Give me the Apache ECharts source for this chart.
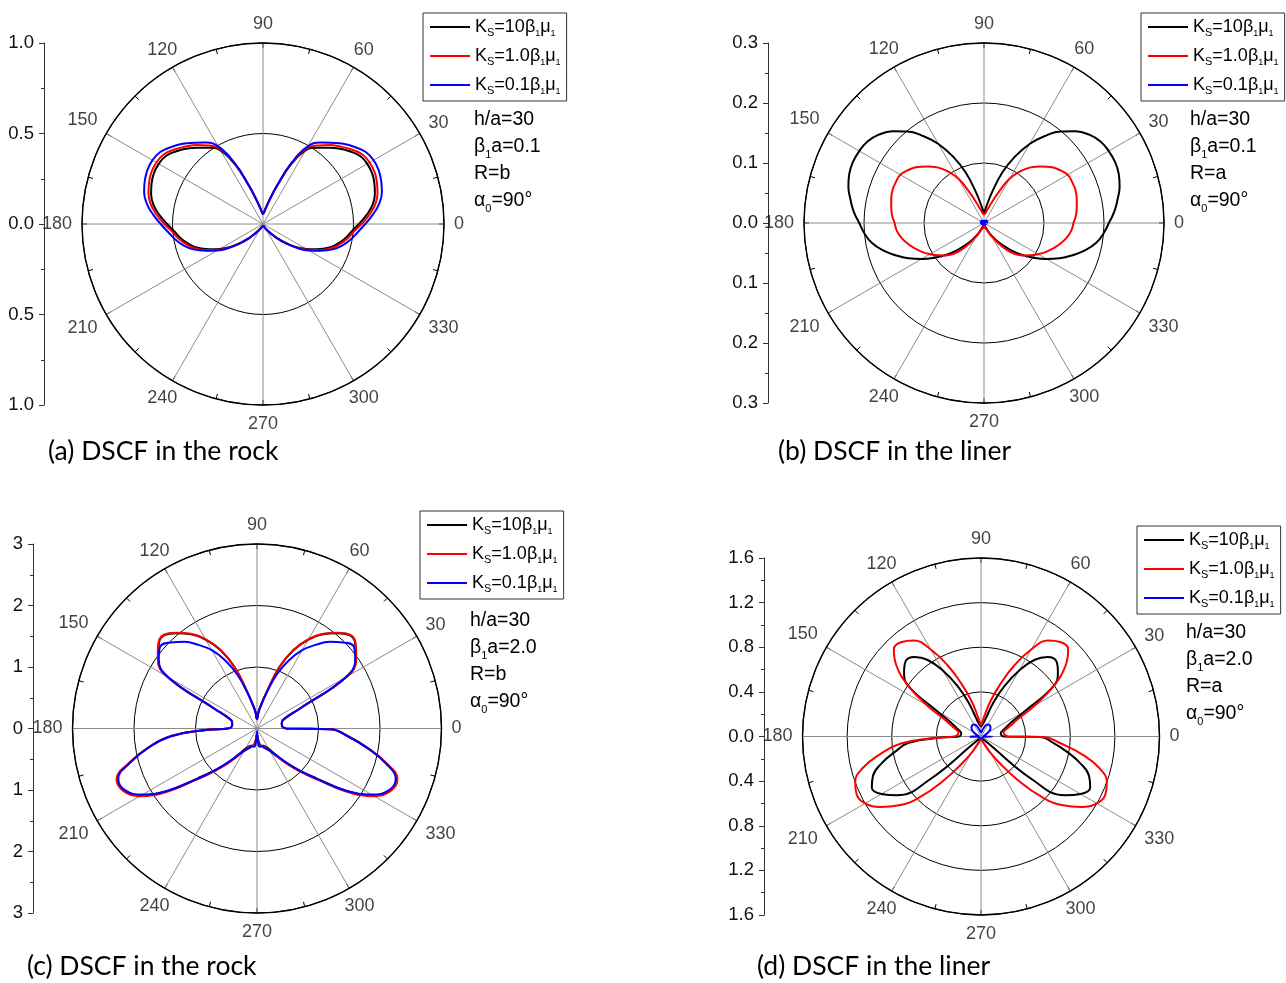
<!DOCTYPE html>
<html>
<head>
<meta charset="utf-8">
<title>DSCF polar plots</title>
<script src="https://cdn.jsdelivr.net/npm/echarts@6/dist/echarts.min.js"></script>
<style>
  html, body { margin: 0; padding: 0; background: #fff; }
  #chart { width: 1286px; height: 983px; }
</style>
</head>
<body>
<div id="chart"></div>
<script>
// ---- sampling angles (degrees) ----
const anglesUniform = [
  0, 5, 10, 15, 20, 25, 30, 35, 40, 45, 50, 55, 60, 65, 70, 75, 80, 85, 90,
  95, 100, 105, 110, 115, 120, 125, 130, 135, 140, 145, 150, 155, 160, 165, 170, 175, 180,
  185, 190, 195, 200, 205, 210, 215, 220, 225, 230, 235, 240, 245, 250, 255, 260, 265, 270,
  275, 280, 285, 290, 295, 300, 305, 310, 315, 320, 325, 330, 335, 340, 345, 350, 355, 360
];
// the beta1*a = 2.0 curves jump radially along the 0/180 degree line
const anglesSplit = [
  0, 5, 10, 15, 20, 25, 30, 35, 40, 45, 50, 55, 60, 65, 70, 75, 80, 85, 90,
  95, 100, 105, 110, 115, 120, 125, 130, 135, 140, 145, 150, 155, 160, 165, 170, 175, 180,
  181.5, 185, 190, 195, 200, 205, 210, 215, 220, 225, 230, 235, 240, 245, 250, 255, 260, 265, 270,
  275, 280, 285, 290, 295, 300, 305, 310, 315, 320, 325, 330, 335, 340, 345, 350, 355, 359.5, 360
];

// ---- (a) DSCF in the rock, beta1*a = 0.1, R = b ----
const rockA_K10 = [
  0.53, 0.575, 0.615, 0.64, 0.655, 0.665, 0.665, 0.655, 0.625, 0.59,
  0.55, 0.515, 0.47, 0.36, 0.22, 0.135, 0.09, 0.065, 0.055, 0.065,
  0.09, 0.135, 0.22, 0.36, 0.47, 0.515, 0.55, 0.59, 0.625, 0.655,
  0.665, 0.665, 0.655, 0.64, 0.615, 0.575, 0.53, 0.49, 0.46, 0.425,
  0.385, 0.33, 0.275, 0.22, 0.16, 0.11, 0.07, 0.045, 0.03, 0.02,
  0.015, 0.012, 0.012, 0.013, 0.015, 0.013, 0.012, 0.012, 0.015, 0.02,
  0.03, 0.045, 0.07, 0.11, 0.16, 0.22, 0.275, 0.33, 0.385, 0.425,
  0.46, 0.49, 0.53
];
const rockA_K1 = [
  0.545, 0.59, 0.63, 0.655, 0.67, 0.68, 0.68, 0.67, 0.64, 0.605,
  0.57, 0.53, 0.48, 0.365, 0.22, 0.135, 0.09, 0.065, 0.055, 0.065,
  0.09, 0.135, 0.22, 0.365, 0.48, 0.53, 0.57, 0.605, 0.64, 0.67,
  0.68, 0.68, 0.67, 0.655, 0.63, 0.59, 0.545, 0.502, 0.472, 0.437,
  0.397, 0.342, 0.285, 0.225, 0.165, 0.11, 0.07, 0.045, 0.03, 0.02,
  0.015, 0.012, 0.012, 0.013, 0.015, 0.013, 0.012, 0.012, 0.015, 0.02,
  0.03, 0.045, 0.07, 0.11, 0.165, 0.225, 0.285, 0.342, 0.397, 0.437,
  0.472, 0.502, 0.545
];
const rockA_K01 = [
  0.565, 0.61, 0.652, 0.68, 0.695, 0.705, 0.705, 0.693, 0.662, 0.627,
  0.586, 0.55, 0.495, 0.372, 0.225, 0.135, 0.09, 0.065, 0.055, 0.065,
  0.09, 0.135, 0.225, 0.372, 0.495, 0.55, 0.586, 0.627, 0.662, 0.693,
  0.705, 0.705, 0.695, 0.68, 0.652, 0.61, 0.565, 0.525, 0.492, 0.455,
  0.41, 0.35, 0.293, 0.232, 0.168, 0.114, 0.07, 0.045, 0.03, 0.02,
  0.015, 0.012, 0.012, 0.013, 0.015, 0.013, 0.012, 0.012, 0.015, 0.02,
  0.03, 0.045, 0.07, 0.114, 0.168, 0.232, 0.293, 0.35, 0.41, 0.455,
  0.492, 0.525, 0.565
];

// ---- (b) DSCF in the liner, beta1*a = 0.1, R = a ----
const linerB_K10 = [
  0.208, 0.218, 0.226, 0.234, 0.239, 0.241, 0.240, 0.237, 0.229, 0.216,
  0.199, 0.177, 0.152, 0.122, 0.09, 0.055, 0.033, 0.022, 0.017, 0.022,
  0.033, 0.055, 0.09, 0.122, 0.152, 0.177, 0.199, 0.216, 0.229, 0.237,
  0.240, 0.241, 0.239, 0.234, 0.226, 0.218, 0.208, 0.2, 0.19, 0.175,
  0.157, 0.139, 0.12, 0.101, 0.083, 0.065, 0.048, 0.034, 0.023, 0.013,
  0.007, 0.005, 0.006, 0.007, 0.008, 0.007, 0.006, 0.005, 0.007, 0.013,
  0.023, 0.034, 0.048, 0.065, 0.083, 0.101, 0.12, 0.139, 0.157, 0.175,
  0.19, 0.2, 0.208
];
const linerB_K1 = [
  0.149, 0.154, 0.157, 0.16, 0.162, 0.162, 0.161, 0.154, 0.145, 0.133,
  0.121, 0.105, 0.085, 0.055, 0.035, 0.024, 0.018, 0.015, 0.014, 0.015,
  0.018, 0.024, 0.035, 0.055, 0.085, 0.105, 0.121, 0.133, 0.145, 0.154,
  0.161, 0.162, 0.162, 0.16, 0.157, 0.154, 0.149, 0.146, 0.14, 0.132,
  0.123, 0.114, 0.104, 0.094, 0.084, 0.073, 0.058, 0.04, 0.026, 0.016,
  0.01, 0.007, 0.006, 0.006, 0.006, 0.006, 0.006, 0.007, 0.01, 0.016,
  0.026, 0.04, 0.058, 0.073, 0.084, 0.094, 0.104, 0.114, 0.123, 0.132,
  0.14, 0.146, 0.149
];
const linerB_K01 = [
  0.004, 0.0042, 0.0045, 0.0048, 0.005, 0.005, 0.005, 0.0048, 0.0045, 0.0042,
  0.004, 0.0035, 0.003, 0.002, 0.0015, 0.001, 0.001, 0.001, 0.001, 0.001,
  0.001, 0.001, 0.0015, 0.002, 0.003, 0.0035, 0.004, 0.0042, 0.0045, 0.0048,
  0.005, 0.005, 0.005, 0.0048, 0.0045, 0.0042, 0.004, 0.0038, 0.0036, 0.0034,
  0.0032, 0.003, 0.0028, 0.0025, 0.0022, 0.002, 0.0016, 0.0012, 0.001, 0.0008,
  0.0006, 0.0005, 0.0005, 0.0005, 0.0005, 0.0005, 0.0005, 0.0005, 0.0006, 0.0008,
  0.001, 0.0012, 0.0016, 0.002, 0.0022, 0.0025, 0.0028, 0.003, 0.0032, 0.0034,
  0.0036, 0.0038, 0.004
];

// ---- (c) DSCF in the rock, beta1*a = 2.0, R = b ----
const rockC_K10 = [
  0.47, 0.41, 0.41, 0.42, 0.49, 0.78, 1.69, 1.96, 2.09, 2.14,
  2.02, 1.87, 1.67, 1.41, 1.06, 0.62, 0.4, 0.27, 0.15,
  0.27, 0.4, 0.62, 1.06, 1.41, 1.67, 1.87, 2.02, 2.14,
  2.09, 1.96, 1.69, 0.78, 0.49, 0.42, 0.41, 0.41, 0.47,
  0.8,
  1.4, 1.8, 2.14, 2.42, 2.38, 2.17, 1.76, 1.26, 0.95,
  0.7, 0.5, 0.38, 0.33, 0.3, 0.29, 0.26, 0.16, 0.1,
  0.16, 0.26, 0.29, 0.3, 0.33, 0.38, 0.5, 0.7, 0.95,
  1.26, 1.76, 2.17, 2.38, 2.42, 2.17, 1.82, 1.49,
  1.19, 0.47
];
const rockC_K1 = [
  0.47, 0.41, 0.41, 0.42, 0.49, 0.78, 1.69, 1.97, 2.1, 2.15,
  2.03, 1.88, 1.68, 1.42, 1.07, 0.62, 0.4, 0.27, 0.15,
  0.27, 0.4, 0.62, 1.07, 1.42, 1.68, 1.88, 2.03, 2.15,
  2.1, 1.97, 1.69, 0.78, 0.49, 0.42, 0.41, 0.41, 0.47,
  0.8,
  1.4, 1.8, 2.15, 2.43, 2.4, 2.2, 1.8, 1.3, 0.99,
  0.74, 0.55, 0.42, 0.36, 0.31, 0.3, 0.28, 0.18, 0.1,
  0.18, 0.28, 0.3, 0.31, 0.36, 0.42, 0.55, 0.74, 0.99,
  1.3, 1.8, 2.2, 2.4, 2.43, 2.18, 1.83, 1.5,
  1.19, 0.47
];
const rockC_K01 = [
  0.47, 0.41, 0.41, 0.42, 0.48, 0.77, 1.66, 1.95, 2.06, 1.98,
  1.84, 1.66, 1.47, 1.22, 0.93, 0.6, 0.38, 0.25, 0.15,
  0.25, 0.38, 0.6, 0.93, 1.22, 1.47, 1.66, 1.84, 1.98,
  2.06, 1.95, 1.66, 0.77, 0.48, 0.42, 0.41, 0.41, 0.47,
  0.8,
  1.39, 1.79, 2.13, 2.4, 2.37, 2.15, 1.76, 1.28, 0.95,
  0.7, 0.52, 0.42, 0.37, 0.33, 0.3, 0.3, 0.26, 0.05,
  0.26, 0.3, 0.3, 0.33, 0.37, 0.42, 0.52, 0.7, 0.95,
  1.28, 1.76, 2.15, 2.37, 2.4, 2.16, 1.82, 1.49,
  1.19, 0.47
];

// ---- (d) DSCF in the liner, beta1*a = 2.0, R = a ----
const linerD_K10 = [
  0.2, 0.18, 0.18, 0.2, 0.24, 0.3, 0.45, 0.8, 0.9, 0.955,
  0.93, 0.84, 0.68, 0.5, 0.32, 0.17, 0.12, 0.1, 0.09,
  0.1, 0.12, 0.17, 0.32, 0.5, 0.68, 0.84, 0.93, 0.955,
  0.9, 0.8, 0.45, 0.3, 0.24, 0.2, 0.18, 0.18, 0.2,
  0.36,
  0.65, 0.78, 0.92, 1.03, 1.08, 1.03, 0.92, 0.6, 0.06,
  0.04, 0.03, 0.03, 0.02, 0.02, 0.02, 0.02, 0.02, 0.02,
  0.02, 0.02, 0.02, 0.02, 0.02, 0.03, 0.03, 0.04, 0.06,
  0.6, 0.92, 1.03, 1.08, 1.03, 0.92, 0.78, 0.65,
  0.53, 0.2
];
const linerD_K1 = [
  0.24, 0.21, 0.205, 0.225, 0.28, 0.36, 0.56, 0.8, 0.99, 1.105,
  1.105, 1.05, 0.9, 0.7, 0.49, 0.33, 0.2, 0.13, 0.1,
  0.13, 0.2, 0.33, 0.49, 0.7, 0.9, 1.05, 1.105, 1.105,
  0.99, 0.8, 0.56, 0.36, 0.28, 0.225, 0.205, 0.21, 0.24,
  0.4,
  0.72, 0.92, 1.1, 1.2, 1.23, 1.2, 1.1, 0.96, 0.76,
  0.5, 0.29, 0.17, 0.09, 0.06, 0.04, 0.03, 0.02, 0.02,
  0.02, 0.03, 0.04, 0.06, 0.09, 0.17, 0.29, 0.5, 0.76,
  0.96, 1.1, 1.2, 1.23, 1.2, 1.1, 0.92, 0.72,
  0.56, 0.24
];
const linerD_K01 = [
  0.03, 0.025, 0.025, 0.03, 0.04, 0.055, 0.075, 0.095, 0.11, 0.12,
  0.125, 0.128, 0.125, 0.115, 0.095, 0.07, 0.05, 0.04, 0.035,
  0.04, 0.05, 0.07, 0.095, 0.115, 0.125, 0.128, 0.125, 0.12,
  0.11, 0.095, 0.075, 0.055, 0.04, 0.03, 0.025, 0.025, 0.03,
  0.1,
  0.03, 0.02, 0.02, 0.02, 0.02, 0.02, 0.02, 0.02, 0.02,
  0.02, 0.02, 0.02, 0.02, 0.02, 0.02, 0.02, 0.02, 0.02,
  0.02, 0.02, 0.02, 0.02, 0.02, 0.02, 0.02, 0.02, 0.02,
  0.02, 0.02, 0.02, 0.02, 0.02, 0.02, 0.02, 0.02,
  0.1, 0.03
];

// ---- axis ticks ----
const angleTicks = [0, 30, 60, 90, 120, 150, 180, 210, 240, 270, 300, 330];
const radiusMaxA = 1.0, radiusStepA = 0.5;
const radiusMaxB = 0.3, radiusStepB = 0.1;
const radiusMaxC = 3,   radiusStepC = 1;
const radiusMaxD = 1.6, radiusStepD = 0.4;

// ---- legend / annotation text ----
const seriesNames = ['Ks10', 'Ks1', 'Ks01'];
const legendLabels = {
  Ks10: '{n|K}{s|S}{n|=10β}{t|1}{n|μ}{t|1}',
  Ks1:  '{n|K}{s|S}{n|=1.0β}{t|1}{n|μ}{t|1}',
  Ks01: '{n|K}{s|S}{n|=0.1β}{t|1}{n|μ}{t|1}'
};
const captions = ['(a) DSCF in the rock', '(b) DSCF in the liner', '(c) DSCF in the rock', '(d) DSCF in the liner'];
const notes = [
  ['h/a=30', '0.1', 'R=b'],
  ['h/a=30', '0.1', 'R=a'],
  ['h/a=30', '2.0', 'R=b'],
  ['h/a=30', '2.0', 'R=a']
];
const colors = ['#000000', '#ff0000', '#0000ff'];

// ---- panel layout ----
const FONT = "'Liberation Sans', Arial, sans-serif";
const panels = [
  { cx: 263, cy: 224,   R: 181,   axisX: 44,  max: radiusMaxA, step: radiusStepA, dec: 1,
    angles: anglesUniform, data: [rockA_K10, rockA_K1, rockA_K01],
    legend: [423, 13], note: [474, 106], caption: [48, 435] },
  { cx: 984, cy: 223,   R: 180,   axisX: 768, max: radiusMaxB, step: radiusStepB, dec: 1,
    angles: anglesUniform, data: [linerB_K10, linerB_K1, linerB_K01],
    legend: [1141, 13], note: [1190, 106], caption: [778, 435] },
  { cx: 257, cy: 728.5, R: 184.5, axisX: 33,  max: radiusMaxC, step: radiusStepC, dec: 0,
    angles: anglesSplit, data: [rockC_K10, rockC_K1, rockC_K01],
    legend: [420, 511], note: [470, 607], caption: [27, 950] },
  { cx: 981, cy: 736.5, R: 178.5, axisX: 764, max: radiusMaxD, step: radiusStepD, dec: 1,
    angles: anglesSplit, data: [linerD_K10, linerD_K1, linerD_K01],
    legend: [1137, 526], note: [1186, 619], caption: [757, 950] }
];

// distance (px) from the outer circle to the centre of an angle label
function labelOffset(angle, text) {
  const w = text.length * 10, h = 18;
  const c = Math.abs(Math.cos(angle * Math.PI / 180));
  const s = Math.abs(Math.sin(angle * Math.PI / 180));
  const half = Math.min(c > 1e-6 ? (w / 2) / c : Infinity, s > 1e-6 ? (h / 2) / s : Infinity);
  return 10 + half;
}

const option = {
  animation: false,
  backgroundColor: '#ffffff',
  textStyle: { fontFamily: FONT },
  polar: [], angleAxis: [], radiusAxis: [],
  grid: [], xAxis: [], yAxis: [],
  legend: [], title: [], series: []
};

const subRich = {
  n: { fontSize: 18, lineHeight: 22, fontFamily: FONT, fontWeight: 'normal', color: '#000' },
  s: { fontSize: 11, lineHeight: 2, verticalAlign: 'bottom', fontFamily: FONT, fontWeight: 'normal', color: '#000' },
  t: { fontSize: 9, lineHeight: 2, verticalAlign: 'bottom', fontFamily: FONT, fontWeight: 'normal', color: '#000' }
};

panels.forEach((p, i) => {
  option.polar.push({ center: [p.cx, p.cy], radius: p.R });
  option.angleAxis.push({
    polarIndex: i, type: 'value', min: 0, max: 360, interval: 30,
    startAngle: 0, clockwise: false,
    axisLine: { lineStyle: { color: '#000', width: 1.4 } },
    axisTick: { show: true, inside: true, length: 5, lineStyle: { color: '#000' } },
    minorTick: { show: true, splitNumber: 2, length: 5, lineStyle: { color: '#000' } },
    axisLabel: { show: false },
    splitLine: { show: true, lineStyle: { color: '#8c8c8c', width: 1 } }
  });
  option.radiusAxis.push({
    polarIndex: i, type: 'value', min: 0, max: p.max, interval: p.step,
    axisLine: { show: false }, axisTick: { show: false }, axisLabel: { show: false },
    splitLine: { show: true, lineStyle: { color: '#000', width: 1 } }
  });

  // vertical radius scale at the left of each plot
  option.grid.push({ left: p.axisX, top: p.cy - p.R, width: 1, height: 2 * p.R });
  option.xAxis.push({ gridIndex: i, type: 'value', show: false, min: 0, max: 1 });
  option.yAxis.push({
    gridIndex: i, type: 'value', min: -p.max, max: p.max, interval: p.step,
    axisLine: { show: true, lineStyle: { color: '#333', width: 1 } },
    axisTick: { show: true, length: 5, lineStyle: { color: '#333' } },
    minorTick: { show: true, splitNumber: 2, length: 3, lineStyle: { color: '#333' } },
    splitLine: { show: false },
    axisLabel: {
      fontSize: 18.5, color: '#111', fontFamily: FONT, margin: 10,
      formatter: v => Math.abs(v).toFixed(p.dec)
    }
  });

  // curves
  p.data.forEach((vals, j) => {
    option.series.push({
      type: 'line', name: seriesNames[j], coordinateSystem: 'polar', polarIndex: i,
      data: p.angles.map((a, k) => [vals[k], a]),
      symbol: 'none', showSymbol: false, smooth: 0.45,
      lineStyle: { color: colors[j], width: j === 2 && i === 1 ? 3 : 2 },
      itemStyle: { color: colors[j] },
      z: 3 + j
    });
  });

  // angle labels around the outer circle
  option.series.push({
    type: 'scatter', coordinateSystem: 'polar', polarIndex: i, silent: true, clip: false,
    symbolSize: 1, itemStyle: { color: 'rgba(0,0,0,0)' },
    data: angleTicks.map(a => [p.max * (1 + labelOffset(a, String(a)) / p.R), a]),
    label: {
      show: true, position: 'inside', fontSize: 18, color: '#111', fontFamily: FONT,
      formatter: q => String(q.value[1])
    },
    labelLayout: { hideOverlap: false },
    z: 10
  });

  option.legend.push({
    data: seriesNames.map(n => ({ name: n, icon: 'rect' })),
    orient: 'vertical', left: p.legend[0], top: p.legend[1],
    itemWidth: 40, itemHeight: 2, itemGap: 9, padding: [5, 6, 5, 7],
    borderColor: '#333', borderWidth: 1, selectedMode: false,
    formatter: name => legendLabels[name],
    textStyle: { fontFamily: FONT, fontWeight: 'normal', rich: subRich }
  });

  const nt = notes[i];
  option.title.push({
    left: p.note[0], top: p.note[1], padding: 0,
    text: '{n|' + nt[0] + '}\n{n|β}{s|1}{n|a=' + nt[1] + '}\n{n|' + nt[2] + '}\n{n|α}{s|0}{n|=90°}',
    textStyle: {
      fontWeight: 'normal', fontFamily: FONT,
      rich: {
        n: { fontSize: 19.5, lineHeight: 27, fontFamily: FONT, fontWeight: 'normal', color: '#000' },
        s: { fontSize: 11, lineHeight: 2, verticalAlign: 'bottom', fontFamily: FONT, fontWeight: 'normal', color: '#000' }
      }
    }
  });
  option.title.push({
    left: p.caption[0], top: p.caption[1], padding: 0,
    text: captions[i],
    textStyle: { fontSize: 26.5, fontWeight: 'normal', fontFamily: 'Lato, sans-serif', color: '#000', lineHeight: 32 }
  });
});

const chart = echarts.init(document.getElementById('chart'), null, { renderer: 'canvas' });
chart.setOption(option);
</script>
</body>
</html>
